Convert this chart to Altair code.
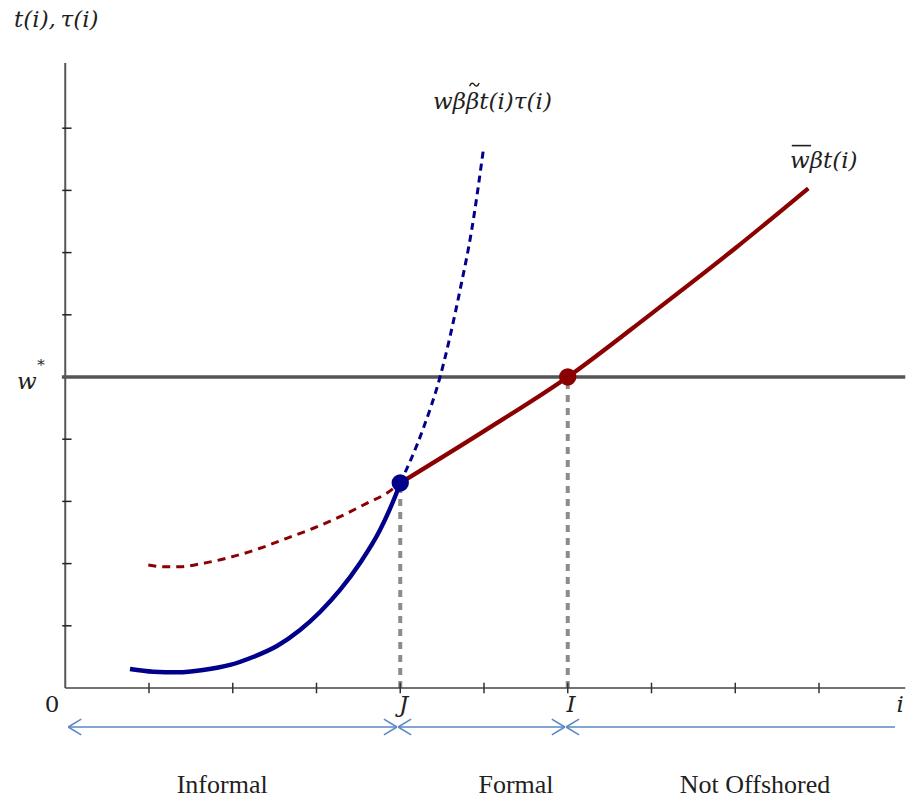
import altair as alt
import pandas as pd

# ---------------- data ----------------
J = 4.0
I = 6.0
W_STAR = 5.0
J_Y = 3.296

x_ticks = [1, 2, 3, 4, 5, 6, 7, 8, 9]
y_ticks = [1, 2, 3, 4, 5, 6, 7, 8, 9]

blue_solid_x = [0.773, 1.048, 1.346, 1.645, 1.967, 2.242, 2.528, 2.803, 3.042, 3.281, 3.520, 3.758, 3.93, 4.0]
blue_solid_y = [0.305, 0.262, 0.252, 0.289, 0.370, 0.498, 0.675, 0.932, 1.222, 1.576, 2.010, 2.540, 3.05, 3.296]

red_dash_x = [0.992, 1.171, 1.370, 1.648, 1.967, 2.325, 2.644, 2.962, 3.281, 3.599, 3.838, 4.0]
red_dash_y = [1.977, 1.950, 1.950, 2.005, 2.101, 2.246, 2.407, 2.568, 2.754, 2.969, 3.130, 3.296]

blue_dash_x = [4.0, 4.268, 4.475, 4.714, 4.853, 4.992]
blue_dash_y = [3.296, 4.148, 5.0, 6.399, 7.363, 8.650]

red_solid_x = [4.0, 5.0, 6.0, 7.0, 8.0, 8.872]
red_solid_y = [3.296, 4.13, 5.0, 6.02, 7.07, 8.034]

dot_x = [J, I]
dot_y = [J_Y, W_STAR]
dot_color = ["#00008B", "#8B0000"]

arrow_start = [0.036, 3.975, 5.98]
arrow_end = [3.96, 5.965, 9.907]
arrow_left_heads = [0.036, 3.975, 5.98]
arrow_right_heads = [3.96, 5.965]
ARROW_Y = -0.627

region_labels = ["Informal", "Formal", "Not Offshored"]
region_x = [1.874, 5.382, 8.236]
REGION_Y = -1.56

axis_labels = ["J", "I", "i"]
axis_label_x = [4.04, 6.04, 9.97]
AXIS_LABEL_Y = -0.27
zero_label_x = -0.158

math_labels = ["t(i),\u2009\u03c4(i)", "w\u03b2\u03b2t(i)\u03c4(i)", "w\u03b2t(i)", "w"]
math_x = [-0.611, 4.391, 8.654, -0.575]
math_y = [10.74, 9.42, 8.48, 4.92]

star_x = [-0.335]
star_y = [5.2]
tilde_x = [4.885]
tilde_y = [9.70]
overline_x = [8.675, 8.905]
overline_y = 8.72

X_MAX = 10.03
Y_MAX = 10.05

# ---------------- scales ----------------
xs = alt.Scale(domain=[-0.7791, 10.0507], nice=False, zero=False)
ys = alt.Scale(domain=[-1.8489, 11.061], nice=False, zero=False)


def X(f):
    return alt.X(f"{f}:Q", scale=xs, axis=None)


def Y(f):
    return alt.Y(f"{f}:Q", scale=ys, axis=None)


def curve(xv, yv, color, width, dash=None):
    df = pd.DataFrame({"x": xv, "y": yv})
    kw = dict(color=color, strokeWidth=width, interpolate="monotone", strokeCap="butt")
    if dash:
        kw["strokeDash"] = dash
    return alt.Chart(df).mark_line(**kw).encode(x=X("x"), y=Y("y"), order="x:Q")


# grey dotted drop lines
drops = alt.Chart(pd.DataFrame({"x": dot_x, "y0": [0, 0], "y1": dot_y})).mark_rule(
    color="#8c8c8c", strokeWidth=4, strokeDash=[7, 6]
).encode(x=X("x"), y=Y("y0"), y2="y1:Q")

# axes
x_axis = alt.Chart(pd.DataFrame({"x0": [0], "x1": [X_MAX], "y": [0]})).mark_rule(
    color="#444444", strokeWidth=1.6
).encode(x=X("x0"), x2="x1:Q", y=Y("y"))
y_axis = alt.Chart(pd.DataFrame({"x": [0], "y0": [0], "y1": [Y_MAX]})).mark_rule(
    color="#555555", strokeWidth=2
).encode(x=X("x"), y=Y("y0"), y2="y1:Q")

xt = alt.Chart(pd.DataFrame({"x": x_ticks, "y0": -0.085, "y1": 0.085})).mark_rule(
    color="#333333", strokeWidth=1.5
).encode(x=X("x"), y=Y("y0"), y2="y1:Q")
yt = alt.Chart(pd.DataFrame({"y": y_ticks, "x0": -0.036, "x1": 0.075})).mark_rule(
    color="#222222", strokeWidth=1.5
).encode(y=Y("y"), x=X("x0"), x2="x1:Q")

wline = alt.Chart(pd.DataFrame({"x0": [-0.04], "x1": [X_MAX], "y": [W_STAR]})).mark_rule(
    color="#555555", strokeWidth=3.5
).encode(x=X("x0"), x2="x1:Q", y=Y("y"))

red_dash = curve(red_dash_x, red_dash_y, "#8B0000", 3, [8, 6])
blue_dash = curve(blue_dash_x, blue_dash_y, "#00008B", 3, [7, 5])
blue_solid = curve(blue_solid_x, blue_solid_y, "#00008B", 4.4)
red_solid = curve(red_solid_x, red_solid_y, "#8B0000", 4.2)

dots = alt.Chart(pd.DataFrame({"x": dot_x, "y": dot_y, "c": dot_color})).mark_circle(
    size=300, opacity=1
).encode(x=X("x"), y=Y("y"), color=alt.Color("c:N", scale=None))

# arrows
ARROW_COLOR = "#5A87C6"
arrows = alt.Chart(pd.DataFrame({"x0": arrow_start, "x1": arrow_end, "y": ARROW_Y})).mark_rule(
    color=ARROW_COLOR, strokeWidth=1.5
).encode(x=X("x0"), x2="x1:Q", y=Y("y"))
lheads = alt.Chart(pd.DataFrame({"x": arrow_left_heads, "y": ARROW_Y})).mark_point(
    shape="M0,0L1,-0.6M0,0L1,0.6", filled=False, size=676, strokeWidth=1.5,
    color=ARROW_COLOR, opacity=1
).encode(x=X("x"), y=Y("y"))
rheads = alt.Chart(pd.DataFrame({"x": arrow_right_heads, "y": ARROW_Y})).mark_point(
    shape="M0,0L-1,-0.6M0,0L-1,0.6", filled=False, size=676, strokeWidth=1.5,
    color=ARROW_COLOR, opacity=1
).encode(x=X("x"), y=Y("y"))

# texts
MATH_FONT = "DejaVu Serif"
TEXT_COLOR = "#1f1f1f"
MATH_SIZE = 23

region_text = alt.Chart(pd.DataFrame({"x": region_x, "t": region_labels, "y": REGION_Y})).mark_text(
    font="Liberation Serif", fontSize=26, color=TEXT_COLOR, align="center", baseline="middle"
).encode(x=X("x"), y=Y("y"), text="t:N")

axis_text = alt.Chart(pd.DataFrame({"x": axis_label_x, "t": axis_labels, "y": AXIS_LABEL_Y})).mark_text(
    font=MATH_FONT, fontSize=MATH_SIZE, fontStyle="italic", color=TEXT_COLOR, align="center", baseline="middle"
).encode(x=X("x"), y=Y("y"), text="t:N")

zero_text = alt.Chart(pd.DataFrame({"x": [zero_label_x], "t": ["0"], "y": [AXIS_LABEL_Y]})).mark_text(
    font=MATH_FONT, fontSize=MATH_SIZE, color=TEXT_COLOR, align="center", baseline="middle"
).encode(x=X("x"), y=Y("y"), text="t:N")

math_text = alt.Chart(pd.DataFrame({"x": math_x, "y": math_y, "t": math_labels})).mark_text(
    font=MATH_FONT, fontSize=MATH_SIZE, fontStyle="italic", color=TEXT_COLOR, align="left", baseline="middle"
).encode(x=X("x"), y=Y("y"), text="t:N")

star_text = alt.Chart(pd.DataFrame({"x": star_x, "y": star_y, "t": ["*"]})).mark_text(
    font=MATH_FONT, fontSize=15, color=TEXT_COLOR, align="left", baseline="middle"
).encode(x=X("x"), y=Y("y"), text="t:N")

# tilde accent drawn as a small stroked symbol
tilde_mark = alt.Chart(pd.DataFrame({"x": tilde_x, "y": tilde_y})).mark_point(
    shape="M-1,0.35C-0.7,-0.45 -0.3,-0.45 0,0C0.3,0.45 0.7,0.45 1,-0.35",
    filled=False, size=90, strokeWidth=1.4, color=TEXT_COLOR, opacity=1
).encode(x=X("x"), y=Y("y"))

overline = alt.Chart(pd.DataFrame({"x0": [overline_x[0]], "x1": [overline_x[1]], "y": [overline_y]})).mark_rule(
    color=TEXT_COLOR, strokeWidth=1.6
).encode(x=X("x0"), x2="x1:Q", y=Y("y"))

chart = alt.layer(
    drops, x_axis, y_axis, xt, yt, wline,
    red_dash, blue_dash, blue_solid, red_solid, dots,
    arrows, lheads, rheads,
    region_text, axis_text, zero_text, math_text, star_text, tilde_mark, overline,
).properties(
    width=907, height=803, autosize=alt.AutoSizeParams(type="none"), padding=0
).configure_view(stroke=None)

chart.save("out.html", embed_options={"renderer": "svg", "actions": False})
